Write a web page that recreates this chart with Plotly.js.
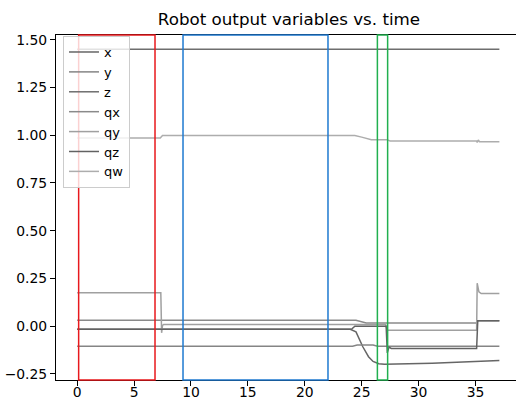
<!DOCTYPE html>
<html>
<head>
<meta charset="utf-8">
<script src="https://cdn.plot.ly/plotly-3.0.1.min.js"></script>
<style>
  html, body { margin: 0; padding: 0; background: #fff; overflow: hidden; }
  #chart { width: 516px; height: 401px; }
</style>
</head>
<body>
<div id="chart"></div>
<script>
// ---- data ----
const seriesNames = ["x", "y", "z", "qx", "qy", "qz", "qw"];

const xT = [0, 24.0, 24.5, 25.1, 25.6, 26.0, 26.5, 27.0, 31.2, 35.1, 35.3, 37.1];
const xV = [-0.016, -0.016, -0.03, -0.108, -0.16, -0.185, -0.197, -0.2, -0.194, -0.185, -0.181, -0.18];

const yT = [0, 24.2, 24.6, 26.0, 26.4, 37.1];
const yV = [-0.105, -0.105, -0.099, -0.099, -0.105, -0.105];

const zT = [0, 37.1];
const zV = [1.45, 1.45];

const qxT = [0, 24.5, 25.4, 35.1, 35.2, 37.1];
const qxV = [0.031, 0.031, 0.017, 0.017, 0.028, 0.028];

const qyT = [0, 7.35, 7.42, 7.5, 7.6, 27.1, 27.25, 35.1, 35.15, 35.3, 35.5, 37.1];
const qyV = [0.175, 0.175, -0.035, 0.004, 0.009, 0.009, -0.021, -0.021, 0.225, 0.18, 0.171, 0.171];

const qzT = [0, 24.1, 24.4, 27.15, 27.25, 27.4, 27.6, 35.1, 35.2, 37.1];
const qzV = [-0.016, -0.016, 0.0, 0.0, -0.14, -0.11, -0.117, -0.117, 0.028, 0.028];

const qwT = [0, 7.3, 7.5, 24.4, 25.0, 25.85, 27.2, 27.35, 27.5, 35.1, 35.15, 35.25, 35.35, 37.1];
const qwV = [0.985, 0.985, 0.999, 0.999, 0.99, 0.977, 0.977, 0.972, 0.970, 0.970, 0.962, 0.975, 0.966, 0.966];

// highlighted time windows
const regionStart = [0.13, 9.3, 26.38];
const regionEnd   = [6.84, 22.04, 27.28];

const yTicks = [-0.25, 0.00, 0.25, 0.50, 0.75, 1.00, 1.25, 1.50];
const xTicks = [0, 5, 10, 15, 20, 25, 30, 35];

// ---- styles ----
const lineColors = ["#666666", "#858585", "#6e6e6e", "#8a8a8a", "#a0a0a0", "#626262", "#adadad"];
const regionColors = ["#e8191d", "#1f7ad0", "#21b04f"];
const FONT = "DejaVu Sans, sans-serif";

const times = [xT, yT, zT, qxT, qyT, qzT, qwT];
const values = [xV, yV, zV, qxV, qyV, qzV, qwV];

const traces = seriesNames.map((name, i) => ({
  x: times[i], y: values[i], name: name, type: "scatter", mode: "lines",
  line: { color: lineColors[i], width: 1.5 }
}));

const shapes = regionStart.map((s, i) => ({
  type: "rect", xref: "x", yref: "paper",
  x0: s, x1: regionEnd[i], y0: 0, y1: 1,
  line: { color: regionColors[i], width: 1.5 }, fillcolor: "rgba(0,0,0,0)", layer: "above"
}));

const layout = {
  width: 516, height: 401,
  margin: { l: 56, r: 0, t: 35, b: 21, pad: 0 },
  paper_bgcolor: "#fff", plot_bgcolor: "#fff",
  font: { family: FONT, size: 13.9, color: "#000" },
  title: {
    text: "Robot output variables vs. time",
    font: { family: FONT, size: 16.7, color: "#000" },
    xref: "paper", x: 0.5065, xanchor: "center",
    yref: "container", y: 0.953, yanchor: "middle"
  },
  xaxis: {
    range: [-1.86, 38.56], tickvals: xTicks, ticktext: xTicks.map(String),
    showgrid: false, zeroline: false,
    showline: true, mirror: true, linecolor: "#000", linewidth: 1,
    ticks: "outside", ticklen: 5, tickwidth: 1, tickcolor: "#000",
    ticklabelstandoff: -6,
    tickfont: { family: FONT, size: 13.9, color: "#000" }
  },
  yaxis: {
    range: [-0.282, 1.525], tickvals: yTicks, tickformat: ".2f",
    showgrid: false, zeroline: false,
    showline: true, mirror: false, linecolor: "#000", linewidth: 1,
    ticks: "outside", ticklen: 5, tickwidth: 1, tickcolor: "#000",
    tickfont: { family: FONT, size: 13.9, color: "#000" }
  },
  showlegend: true,
  legend: {
    x: 0.0152, y: 0.997, xanchor: "left", yanchor: "top",
    bgcolor: "rgba(255,255,255,0.8)", bordercolor: "#cccccc", borderwidth: 1,
    font: { family: FONT, size: 13, color: "#000" },
    tracegroupgap: 0
  },
  shapes: shapes
};

Plotly.newPlot("chart", traces, layout, { staticPlot: true, displayModeBar: false });
</script>
</body>
</html>
